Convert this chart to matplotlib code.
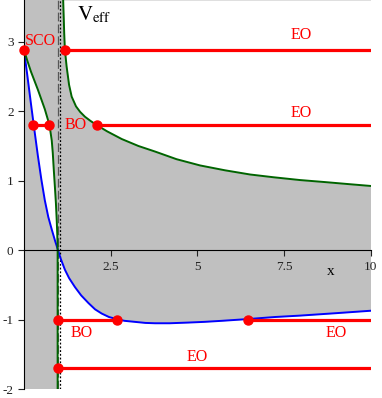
import numpy as np
import matplotlib
matplotlib.use('Agg')
import matplotlib.pyplot as plt

plt.rcParams['font.family'] = ['Liberation Serif', 'DejaVu Serif']
plt.rcParams['mathtext.fontset'] = 'stix'
plt.rcParams['axes.unicode_minus'] = False

# curves
# blue: lower branch of V_eff
blue_x = [0.0, 0.1, 0.2, 0.3, 0.4, 0.5, 0.6, 0.7, 0.8, 0.9, 0.97,
          1.05, 1.18, 1.3, 1.47, 1.65, 1.86, 2.05, 2.24, 2.45, 2.67, 2.9,
          3.2, 3.5, 3.78, 4.2, 4.74, 5.2, 5.7, 6.45, 7.24, 7.96, 9.0, 10.0]
blue_y = [2.88, 2.50, 2.11, 1.73, 1.36, 1.02, 0.72, 0.48, 0.30, 0.13, 0.02,
          -0.11, -0.28, -0.40, -0.53, -0.65, -0.76, -0.85, -0.91, -0.96, -0.99, -1.015,
          -1.03, -1.045, -1.05, -1.05, -1.04, -1.03, -1.015, -0.99, -0.96, -0.94, -0.905, -0.87]
# green, inner branch (left of the horizon)
green_in_x = [0.0, 0.1, 0.2, 0.3, 0.4, 0.5, 0.6, 0.7, 0.75, 0.8, 0.83, 0.86,
              0.89, 0.92, 0.945, 0.96, 0.97, 0.97]
green_in_y = [2.88, 2.72, 2.57, 2.44, 2.31, 2.17, 2.03, 1.86, 1.75, 1.58, 1.40, 1.15,
              0.92, 0.68, 0.42, 0.22, 0.0, -2.0]
# green, outer branch
green_out_x = [1.13, 1.16, 1.18, 1.23, 1.30, 1.375, 1.5, 1.62, 1.76, 1.92, 2.1, 2.4,
               2.82, 3.3, 3.78, 4.4, 5.08, 5.8, 6.52, 7.2, 7.96, 8.7, 9.4, 10.0]
green_out_y = [3.6, 3.12, 2.88, 2.64, 2.38, 2.21, 2.07, 1.99, 1.92, 1.86, 1.80, 1.71,
               1.60, 1.50, 1.42, 1.31, 1.22, 1.15, 1.09, 1.05, 1.01, 0.98, 0.95, 0.925]

# asymptotes
x_dash = 0.97
x_dot = 1.05

# energy levels and the dots on them
level_sco = 2.88
level_bo = 1.8
level_lo1 = -1.0
level_lo2 = -1.7
sco_dots = [0.0, 1.18]
bo_dots = [0.25, 0.73, 2.1]
lo1_dots = [0.97, 2.67, 6.45]
lo2_dots = [0.97]

labels = [('SCO', 0.03, 3.01, 'left'), ('EO', 8.01, 3.10, 'center'),
          ('BO', 1.18, 1.80, 'left'), ('EO', 8.0, 1.97, 'center'),
          ('BO', 1.33, -1.19, 'left'), ('EO', 9.0, -1.19, 'center'),
          ('EO', 5.0, -1.54, 'center')]

x_ticks = [2.5, 5, 7.5, 10]
x_ticklabels = ['2.5', '5', '7.5', '10']
y_ticks = [-2, -1, 0, 1, 2, 3]

fig = plt.figure(figsize=(3.82, 3.98), dpi=100)
ax = fig.add_axes([24/382., 8.7/398., 346.7/382., 389.3/398.])
ax.set_xlim(0, 10)
ax.set_ylim(-2, 3.6)
ax.set_facecolor('#c0c0c0')

k = blue_x.index(0.97)
kg = green_in_y.index(0.0)
# white allowed regions
ax.fill_between(green_out_x, green_out_y, 3.6, color='white', lw=0)
ax.fill(blue_x[:k+1] + green_in_x[kg::-1], blue_y[:k+1] + green_in_y[kg::-1],
        color='white', lw=0)
ax.fill_between(blue_x[k:], blue_y[k:], -2, color='white', lw=0)

ax.axvline(x_dash, color='#555555', lw=0.9, ls=(0, (7, 2.5)))
ax.axvline(x_dot, color='black', lw=0.9, ls=(0, (1.5, 1.5)))

ax.plot(blue_x, blue_y, color='blue', lw=1.4)
ax.plot(green_in_x, green_in_y, color='#006400', lw=1.4)
ax.plot(green_out_x, green_out_y, color='#006400', lw=1.4)

red = '#ff0000'
ax.plot([sco_dots[1], 10], [level_sco]*2, color=red, lw=2.3)
ax.plot(bo_dots[:2], [level_bo]*2, color=red, lw=2.3)
ax.plot([bo_dots[2], 10], [level_bo]*2, color=red, lw=2.3)
ax.plot(lo1_dots[:2], [level_lo1]*2, color=red, lw=2.3)
ax.plot([lo1_dots[2], 10], [level_lo1]*2, color=red, lw=2.3)
ax.plot([lo2_dots[0], 10], [level_lo2]*2, color=red, lw=2.3)
for xs, lev in [(sco_dots, level_sco), (bo_dots, level_bo),
                (lo1_dots, level_lo1), (lo2_dots, level_lo2)]:
    ax.plot(xs, [lev]*len(xs), 'o', color=red, ms=6.5, clip_on=False, zorder=4)

for s, tx, ty, ha in labels:
    ax.text(tx, ty, s, color=red, fontsize=11.5, ha=ha, va='center')

ax.text(1.52, 3.39, r'$\mathrm{V}_{\mathrm{eff}}$', fontsize=15, va='center')
ax.text(8.85, -0.31, 'x', fontsize=11, ha='center', va='center')

ax.spines['top'].set_visible(False)
ax.spines['right'].set_visible(False)
ax.spines['bottom'].set_position(('data', 0))
ax.set_xticks(x_ticks)
ax.set_xticklabels(x_ticklabels)
ax.set_yticks(y_ticks)
ax.tick_params(labelsize=9.5, length=4, width=0.8, colors='#222222')

plt.savefig('out.png', dpi=100)
plt.close()
